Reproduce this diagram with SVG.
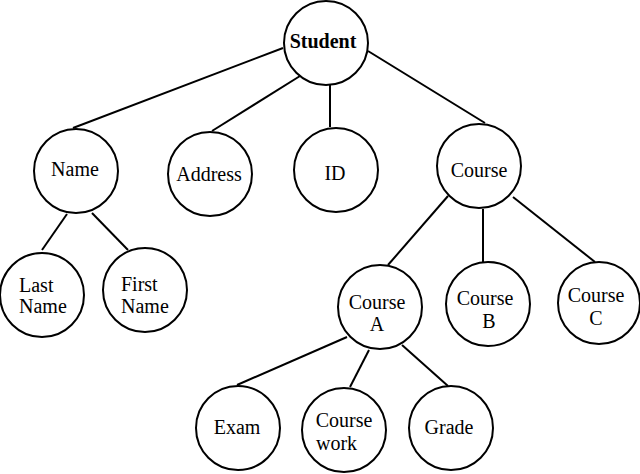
<svg xmlns="http://www.w3.org/2000/svg" width="640" height="474" viewBox="0 0 640 474">
<style>
.n{fill:#fff;stroke:#000;stroke-width:2}
.e line{stroke:#000;stroke-width:2}
text{font-family:"Liberation Serif","Times New Roman",serif;font-size:20px;fill:#000}
.c{text-anchor:middle}
.b{font-weight:bold}
</style>
<rect width="640" height="474" fill="#fff"/>
<g id="connectors" class="e">
<line x1="283" y1="48" x2="73" y2="128"/>
<line x1="300" y1="76" x2="212" y2="131"/>
<line x1="330" y1="85" x2="330" y2="127"/>
<line x1="368" y1="51" x2="485" y2="123"/>
<line x1="67" y1="214" x2="42" y2="250"/>
<line x1="92" y1="213" x2="128" y2="250"/>
<line x1="448" y1="196" x2="388" y2="265"/>
<line x1="483" y1="209" x2="483" y2="262"/>
<line x1="513" y1="197" x2="595" y2="262"/>
<line x1="347" y1="337" x2="237" y2="385"/>
<line x1="369" y1="350" x2="350" y2="387"/>
<line x1="402" y1="345" x2="448" y2="386"/>
</g>
<g id="student"><circle class="n" cx="326" cy="43" r="42"/><text class="c b" x="323" y="48">Student</text></g>
<g id="name"><circle class="n" cx="76" cy="171" r="42"/><text class="c" x="75" y="176">Name</text></g>
<g id="address"><circle class="n" cx="210" cy="174" r="42"/><text class="c" x="209" y="181">Address</text></g>
<g id="id"><circle class="n" cx="336" cy="170" r="42"/><text class="c" x="335" y="180">ID</text></g>
<g id="course"><circle class="n" cx="479" cy="166" r="42"/><text class="c" x="479" y="177">Course</text></g>
<g id="lastname"><circle class="n" cx="42" cy="295" r="42"/><text x="19" y="292">Last</text><text x="19" y="313">Name</text></g>
<g id="firstname"><circle class="n" cx="145" cy="290" r="42"/><text x="121" y="291">First</text><text x="121" y="313">Name</text></g>
<g id="coursea"><circle class="n" cx="380" cy="307" r="42"/><text class="c" x="377" y="309">Course</text><text class="c" x="377" y="331">A</text></g>
<g id="courseb"><circle class="n" cx="488" cy="304" r="42"/><text class="c" x="485" y="305">Course</text><text class="c" x="489" y="328">B</text></g>
<g id="coursec"><circle class="n" cx="599" cy="303" r="41"/><text class="c" x="596" y="302">Course</text><text class="c" x="596" y="325">C</text></g>
<g id="exam"><circle class="n" cx="238" cy="428" r="42"/><text class="c" x="237" y="434">Exam</text></g>
<g id="coursework"><circle class="n" cx="344" cy="430" r="42"/><text class="c" x="344" y="427">Course</text><text x="316" y="450">work</text></g>
<g id="grade"><circle class="n" cx="451" cy="428" r="42"/><text class="c" x="449" y="434">Grade</text></g>
</svg>
